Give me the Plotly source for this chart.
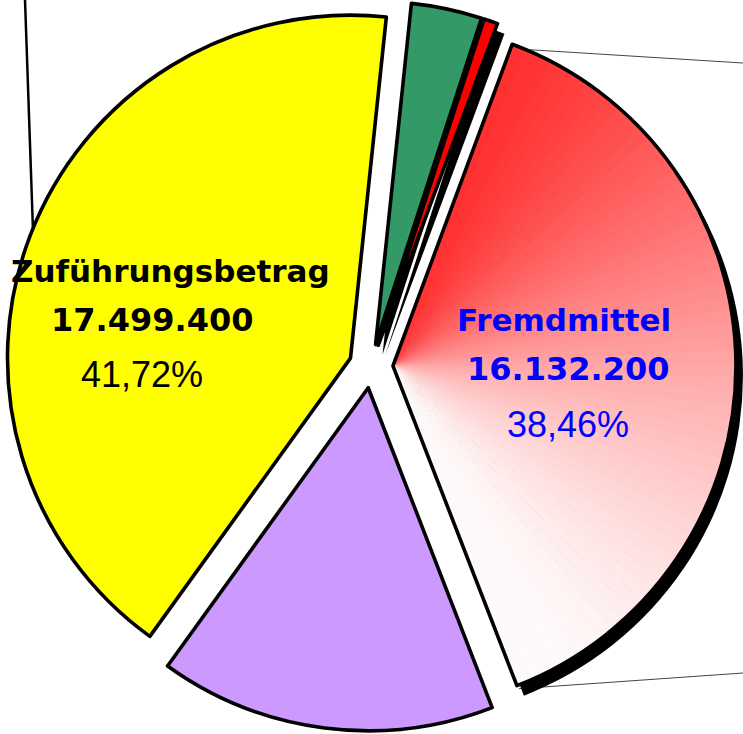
import numpy as np
import plotly.graph_objects as go

# ---------------- data ----------------
labels = ["Sonstiges 1", "Sonstiges 2", "Fremdmittel", "Sonstiges 3", "Zuführungsbetrag"]
values = [1396700, 275100, 16132200, 6639600, 17499400]
slice_colors = ["#339966", "#FF0000", "rgba(0,0,0,0)", "#CC99FF", "#FFFF00"]
labelled = ["Zuführungsbetrag", "Fremdmittel"]
label_colors = ["#000000", "#0000FF"]
shadowed = ["Sonstiges 1", "Sonstiges 2", "Fremdmittel"]
gradient_slice = "Fremdmittel"

# ---------------- style / geometry ----------------
W, H = 743, 734
R = 343            # pie radius in px
PULL = 0.064       # explode fraction
CX, CY = 371, 366  # pie centre in px
ROT = 6            # first slice start (deg, clockwise from 12 o'clock)
SHADOW = (7, 10)   # shadow offset px
N_GRAD = 60
grad_stop_y = [50, 190, 390, 610, 690]
grad_stop_g = [26, 96, 176, 248, 255]
label_pos = [
    [(170.5, 270.8), (151.5, 320.0), (142.0, 374.2)],
    [(564.0, 320.0), (567.5, 369.2), (567.5, 424.2)],
]

total = float(sum(values))


def start_angle(i):
    return ROT + 360.0 * sum(values[:i]) / total


def span_angle(i):
    return 360.0 * values[i] / total


def apex(i):
    a = np.radians(start_angle(i) + span_angle(i) / 2)
    return CX + PULL * R * np.sin(a), CY - PULL * R * np.cos(a)


def domain(cx, cy, half):
    return dict(
        x=[max(0.0, (cx - half) / W), min(1.0, (cx + half) / W)],
        y=[max(0.0, 1 - (cy + half) / H), min(1.0, 1 - (cy - half) / H)],
    )


common = dict(sort=False, direction="clockwise", rotation=ROT, showlegend=False)
fig = go.Figure()

# shadows
for name in shadowed:
    i = labels.index(name)
    ax, ay = apex(i)
    cols = ["rgba(0,0,0,0)"] * len(values)
    cols[i] = "#000000"
    fig.add_trace(go.Pie(
        labels=labels, values=values, marker=dict(colors=cols, line=dict(width=0)),
        textinfo="none", hoverinfo="skip",
        domain=domain(ax + SHADOW[0], ay + SHADOW[1], R), **common))

# gradient fill of the Fremdmittel slice
iF = labels.index(gradient_slice)
ax, ay = apex(iF)
sub_vals = values[:iF] + [values[iF] / N_GRAD] * N_GRAD + values[iF + 1:]
sub_labels = [f"g{k}" for k in range(len(sub_vals))]
sub_cols, sub_w = [], []
for k in range(len(sub_vals)):
    if iF <= k < iF + N_GRAD:
        th = np.radians(start_angle(iF) + span_angle(iF) * (k - iF + 0.5) / N_GRAD)
        y = ay - 0.85 * R * np.cos(th)
        g = float(np.interp(y, grad_stop_y, grad_stop_g))
        sub_cols.append(f"rgb(255,{g:.0f},{g:.0f})")
        sub_w.append(1)
    else:
        sub_cols.append("rgba(0,0,0,0)")
        sub_w.append(0)
fig.add_trace(go.Pie(
    labels=sub_labels, values=sub_vals,
    marker=dict(colors=sub_cols, line=dict(color=sub_cols, width=sub_w)),
    textinfo="none", hoverinfo="skip", domain=domain(ax, ay, R), **common))

# main pie
fig.add_trace(go.Pie(
    labels=labels, values=values, pull=[PULL] * len(values),
    marker=dict(colors=slice_colors, line=dict(color="#000000", width=3.6)),
    textinfo="none", hovertemplate="%{label}: %{value:,.0f}<extra></extra>",
    domain=domain(CX, CY, R * (1 + PULL)), **common))

# labels


def fmt_int(v):
    return f"{v:,.0f}".replace(",", ".")


def fmt_pct(v):
    return f"{100 * v / total:.2f}".replace(".", ",") + "%"


for name, col, pos in zip(labelled, label_colors, label_pos):
    v = values[labels.index(name)]
    lines = [(f"<b>{name}</b>", "Comic Sans MS, DejaVu Sans, sans-serif", 31),
             (f"<b>{fmt_int(v)}</b>", "Comic Sans MS, DejaVu Sans, sans-serif", 32),
             (fmt_pct(v), "Arial, Liberation Sans, sans-serif", 36)]
    for (txt, fam, size), (px, py) in zip(lines, pos):
        fig.add_annotation(x=px / W, y=1 - py / H, xref="paper", yref="paper",
                           text=txt, showarrow=False, xanchor="center", yanchor="middle",
                           font=dict(family=fam, size=size, color=col))

# decorative connector lines


def line(x0, y0, x1, y1, color, width):
    fig.add_shape(type="line", xref="paper", yref="paper", layer="below",
                  x0=x0 / W, y0=1 - y0 / H, x1=x1 / W, y1=1 - y1 / H,
                  line=dict(color=color, width=width))


line(25, 0, 33.5, 245, "#000000", 2.5)
line(518, 49, 743, 63, "#444444", 1)
line(519, 688.7, 743, 673, "#444444", 1)

fig.update_layout(width=W, height=H, margin=dict(l=0, r=0, t=0, b=0),
                  paper_bgcolor="white", plot_bgcolor="white", showlegend=False)
fig.write_html("out.html")
